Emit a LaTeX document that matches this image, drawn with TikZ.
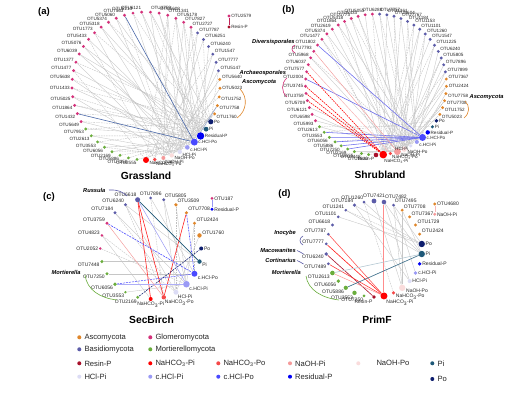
\documentclass[tikz,border=0pt]{standalone}
\usepackage{fontspec}
\setmainfont{Liberation Sans}
\usetikzlibrary{backgrounds}
\definecolor{asco}{HTML}{E0862A}
\definecolor{basi}{HTML}{5C5CA8}
\definecolor{glom}{HTML}{D4317A}
\definecolor{mort}{HTML}{6AAD3C}
\definecolor{resin}{HTML}{A8102A}
\definecolor{nahpi}{HTML}{FF0000}
\definecolor{nahpo}{HTML}{F54848}
\definecolor{naohpi}{HTML}{F59A9A}
\definecolor{naohpo}{HTML}{FADCDC}
\definecolor{hclpi}{HTML}{DCDCF5}
\definecolor{chclpi}{HTML}{9A9AF5}
\definecolor{chclpo}{HTML}{4A4AFF}
\definecolor{resid}{HTML}{0000F5}
\definecolor{pii}{HTML}{1E5878}
\definecolor{poo}{HTML}{0E1E6E}
\definecolor{eblue}{HTML}{6A6AEE}
\definecolor{steel}{HTML}{4A68A8}
\tikzset{
 dot/.style={circle,inner sep=0pt,draw=none},
 lab/.style={font=\fontsize{4.6}{5}\selectfont,inner sep=0.3pt,text=black!85},
 gl/.style={draw=gray!45,line width=0.35pt},
 gd/.style={draw=gray!50,line width=0.35pt,dash pattern=on 1.6pt off 1pt},
 ttl/.style={font=\bfseries\fontsize{10.3}{12}\selectfont},
 plab/.style={font=\bfseries\fontsize{9.5}{11}\selectfont},
 ann/.style={font=\bfseries\itshape\fontsize{5.7}{6}\selectfont,inner sep=0pt},
 ldot/.style={circle,inner sep=0pt,minimum size=4pt,draw=none},
 ltxt/.style={font=\fontsize{7.6}{9}\selectfont,inner sep=0pt,xshift=2.8pt,text=black!85},
}
\newcommand\cn[5][\ang]{\pgfmathsetmacro\ang{\sa+\st*#2}%
 \node[dot,fill=#4,minimum size=#5,label={[lab]#1:#3}] (\pre#2) at ({\cx+\rr*cos(\ang)},{\cy-\rr*sin(\ang)}) {};}
\begin{document}
\begin{tikzpicture}[x=1pt,y=-1pt]
\begin{pgfonlayer}{background}
\fill[white] (0,0) rectangle (514,395);
\end{pgfonlayer}
\useasboundingbox (0,0) rectangle (514,395);

% ================= (a) Grassland
\def\pre{a}\def\cx{146}\def\cy{86}\def\rr{74}\def\st{6.79}\def\sa{-90}
\foreach \la/\i/\t/\c/\s in {-15/0/{NaHCO\textsubscript{3}-Pi}/nahpi/6,-70/1/{NaHCO\textsubscript{3}-Po}/nahpo/3.6,-50/2/NaOH-Pi/naohpi/4,-10/3/NaOH-Po/naohpo/4.4,-10/4/HCl-Pi/hclpi/4.4,-5/5/c.HCl-Pi/chclpi/4.6,0/6/c.HCl-Po/chclpo/7,0/7/Residual-P/resid/7.4,0/8/Pi/pii/4.8,0/9/Po/poo/5.2}{\cn[\la]{\i}{\t}{\c}{\s}}
\foreach \i/\t in {10/OTU1760,11/OTU7758,12/OTU1752,13/OTU5023,14/OTU5640}{\cn{\i}{\t}{asco}{3.2}}
\foreach \i/\t in {15/OTU5147,16/OTU7777,17/OTU1547,18/OTU6240,19/OTU6251,20/OTU7787}{\cn{\i}{\t}{basi}{3.2}}
\foreach \i/\t in {21/OTU2727,22/OTU7827,23/OTU5178,24/OTU1341,25/OTU5608,26/OTU3759,27/OTU6121,28/OTU5213,29/OTU7563,30/OTU5060,31/OTU5374,32/OTU5318,33/OTU1773,34/OTU5433,35/OTU5076,36/OTU6039,37/OTU1377,38/OTU1477,39/OTU5638,40/OTU1433,41/OTU5025,42/OTU1864,43/OTU1432,44/OTU5649}{\cn{\i}{\t}{glom}{3.2}}
\foreach \i/\t in {45/OTU7953,46/OTU2613,47/OTU3553,48/OTU6056,49/OTU2169,50/OTU5886,51/OTU7250,52/OTU2555}{\cn{\i}{\t}{mort}{3.2}}
\node[dot,fill=glom,minimum size=3.2,label={[lab]right:OTU2579}] (aotu) at (229,16) {};
\node[dot,fill=resin,minimum size=3.2,label={[lab]right:Resin-P}] (ares) at (229,27) {};
\begin{scope}[on background layer]
\foreach \u/\v in {21/7,21/4,22/6,22/3,23/7,23/5,24/4,24/2,25/6,25/7,26/3,27/5,27/7,28/4,30/7,30/3,31/6,32/4,32/7,33/2,34/6,35/4,35/7,36/5,37/3,38/7,39/4,40/6,41/3,42/7,44/5,45/7,46/4,47/3,48/6,49/7,15/3,16/5,17/4,18/7,19/2,20/4,10/3,11/5,13/4,14/2,26/9,36/8}{\draw[gl] (a\u) -- (a\v);}
\foreach \u/\v in {21/9,22/8,24/0,26/7,28/8,29/3,31/9,33/8,34/1,37/9,38/0,39/8,40/9,41/7,42/8,43/9,44/8,45/9,46/7,47/8,48/3,49/4,50/6,51/7,52/5,15/9,17/0,19/8,20/1,12/0,23/1}{\draw[gd] (a\u) -- (a\v);}
\draw[steel,line width=0.6pt] (a29) -- (a6);
\draw[steel,line width=0.6pt] (a43) -- (a6);
\draw[steel!60,line width=0.5pt] (a11) -- (a6);
\draw[glom!60!resin,line width=0.5pt] (aotu) -- (ares);
\end{scope}
\node[ann,anchor=west] (annAscA) at (242,82.5) {Ascomycota};
\draw[asco,line width=0.6pt] (240,89) .. controls (248,97) and (247,111) .. (237,118);
\node[ttl] (tA) at (146,176) {Grassland};
\node[plab] (pA) at (44,12) {(a)};

% ================= (b) Shrubland
\def\pre{b}\def\cx{376}\def\cy{84.5}\def\rr{70.5}\def\st{5.9}\def\sa{-90}
\foreach \la/\i/\t/\c/\s in {-120/0/Resin-P/resin/4.6,-80/1/{NaHCO\textsubscript{3}-Pi}/nahpi/7.6,-50/2/{NaHCO\textsubscript{3}-Po}/nahpo/3.6,-10/3/NaOH-Pi/naohpi/6.8,-5/4/NaOH-Po/naohpo/5.4,-150/5/HCl-Pi/hclpi/3.6,-20/6/c.HCl-Pi/chclpi/4,0/7/c.HCl-Po/chclpo/7,0/8/Residual-P/resid/4.4,0/9/Pi/pii/3.4,0/10/Po/poo/3.8}{\cn[\la]{\i}{\t}{\c}{\s}}
\foreach \i/\t in {11/OTU5023,12/OTU1752,13/OTU7708,14/OTU7758,15/OTU2424,16/OTU7367}{\cn{\i}{\t}{asco}{3.2}}
\foreach \i/\t in {17/OTU7899,18/OTU7896,19/OTU5805,20/OTU6240,21/OTU1225,22/OTU1547,23/OTU1260,24/OTU1101,25/OTU1153,26/OTU1184,27/OTU7767,28/OTU5604,29/OTU1361,30/OTU7757}{\cn{\i}{\t}{basi}{3.2}}
\foreach \i/\t in {31/OTU6288,32/OTU5053,33/OTU5433,34/OTU1773,35/OTU5318,36/OTU1864,37/OTU2619,38/OTU5374,39/OTU1477,40/OTU1802,41/OTU7793,42/OTU5968,43/OTU6037,44/OTU7577,45/OTU2004,46/OTU3745,47/OTU3759,48/OTU5709,49/OTU6121,50/OTU6598,51/OTU5993}{\cn{\i}{\t}{glom}{3.2}}
\foreach \i/\t in {52/OTU2613,53/OTU3553,54/OTU6056,55/OTU5886,56/OTU7250,57/OTU2169,58/OTU2555,59/OTU7448,60/OTU1620}{\cn{\i}{\t}{mort}{3.2}}
\begin{scope}[on background layer]
\foreach \u/\v in {17/5,18/4,19/3,20/6,21/4,22/1,23/5,24/3,25/4,26/6,27/2,28/4,29/5,30/3,31/4,32/1,33/5,34/3,35/4,36/6,37/3,38/5,39/4,42/3,49/4,50/3,51/5,52/4,58/3,59/4,11/4,12/3,13/5,14/6,15/4,16/3,24/1,27/6,29/1,35/1}{\draw[gl] (b\u) -- (b\v);}
\foreach \u/\v in {17/1,19/4,21/1,23/3,25/1,26/4,28/3,30/5,31/1,33/4,34/6,36/3,38/1,39/2,42/5,52/9,53/10,55/8,60/4,13/4,15/1}{\draw[gd] (b\u) -- (b\v);}
\foreach \u in {40,45,53,54,55,56,57}{\draw[eblue,line width=0.55pt] (b\u) -- (b7);}
\foreach \u in {44,46,47,48}{\draw[nahpi,line width=0.6pt,dash pattern=on 1.6pt off 0.9pt] (b\u) -- (b1);}
\draw[naohpi,line width=0.45pt] (b41) -- (b3);
\draw[naohpi!80,line width=0.45pt] (b43) -- (b2);
\end{scope}
\node[ann,anchor=west] (annDiv) at (252,42.5) {Diversisporales};
\draw[glom,line width=0.6pt] (295,45) .. controls (291,47) and (291,51) .. (295,53);
\node[ann,anchor=west] (annArc) at (239.5,73) {Archaeosporales};
\draw[glom,line width=0.6pt] (287,78) .. controls (281,83) and (281,92) .. (287,97);
\node[ann,anchor=west] (annAscB) at (469.5,97.5) {Ascomycota};
\draw[asco,line width=0.6pt] (465,101) .. controls (470,106) and (470,113) .. (464,118);
\node[ttl] (tB) at (380,175) {Shrubland};
\node[plab] (pB) at (288.5,10.5) {(b)};

% ================= (c) SecBirch
\tikzset{lab/.style={font=\fontsize{5}{5.5}\selectfont,inner sep=0.4pt,text=black!85}}
\def\pre{c}\def\cx{150.7}\def\cy{248.5}\def\rr{50.5}\def\st{15}\def\sa{-90}
\foreach \i/\t/\c/\s in {0/{NaHCO\textsubscript{3}-Pi}/nahpi/4,1/{NaHCO\textsubscript{3}-Po}/nahpo/4.4,2/HCl-Pi/hclpi/5,3/c.HCl-Pi/chclpi/6.6,4/c.HCl-Po/chclpo/6,5/Pi/pii/4.4,6/Po/poo/4,7/OTU1760/asco/4.4,8/OTU2424/asco/3.2,9/OTU7708/asco/3.4,10/OTU3509/asco/3.6,11/OTU5805/basi/3.2,12/OTU7896/basi/3,13/OTU6618/basi/5,14/OTU6240/basi/3.2,15/OTU7184/basi/3.2,16/OTU3759/glom/3.2,17/OTU4823/glom/2.8,18/OTU2052/glom/2.6,19/OTU7448/mort/3.4,20/OTU7250/mort/3.4,21/OTU6056/mort/3.8,22/OTU3553/mort/2.6,23/OTU2169/mort/3.2}{\cn{\i}{\t}{\c}{\s}}
\node[dot,fill=glom,minimum size=3,label={[lab]right:OTU187}] (cotu) at (212,198.3) {};
\node[dot,fill=resid,minimum size=3.2,label={[lab]right:Residual-P}] (cres) at (212,209.3) {};
\begin{scope}[on background layer]
\foreach \u/\v in {19/5,14/2,11/2,10/3,20/4,22/3,7/2,8/3,11/3,12/4,15/3,17/0,14/5}{\draw[gl] (c\u) -- (c\v);}
\foreach \u/\v in {15/2,12/1,17/2,18/3,10/2,14/1,8/4}{\draw[gd] (c\u) -- (c\v);}
\draw[nahpi!85,line width=0.6pt] (c13) -- (c0);
\draw[nahpi!85,line width=0.6pt] (c13) -- (c1);
\draw[nahpi!85,line width=0.6pt] (c9) -- (c1);
\draw[pii,line width=0.6pt] (c13) -- (c5);
\draw[chclpo,line width=0.6pt,dash pattern=on 2pt off 1pt] (c16) -- (c4);
\draw[chclpo,line width=0.6pt,dash pattern=on 2pt off 1pt] (c9) -- (c4);
\draw[chclpo,line width=0.5pt,dash pattern=on 2pt off 1pt] (c21) -- (c4);
\draw[poo,line width=0.55pt,dash pattern=on 2pt off 1pt] (c23) -- (c6);
\draw[chclpi!80,line width=1.3pt] (c21) -- (c3);
\draw[chclpi,line width=0.5pt] (c13) -- (c3);
\draw[naohpi,line width=0.45pt] (c16) -- (c1);
\draw[eblue!70,line width=0.5pt] (cotu) -- (cres);
\end{scope}
\node[ann,anchor=west] (annRus) at (83,190) {Russula};
\draw[basi,line width=0.6pt] (109,190) .. controls (118,189.5) and (123,192) .. (127,196);
\node[ann,anchor=west] (annMorC) at (51.5,272.7) {Mortierella};
\draw[mort,line width=0.6pt] (85,275) .. controls (87,290) and (100,298) .. (117,300);
\node[ttl] (tC) at (151.5,320) {SecBirch};
\node[plab] (pC) at (49,197.5) {(c)};

% ================= (d) PrimF
\def\pre{d}\def\cx{374}\def\cy{249}\def\rr{48}\def\st{12}\def\sa{-90}
\foreach \la/\i/\t/\c/\s in {-120/0/Resin-P/resin/3.8,-60/1/{NaHCO\textsubscript{3}-Pi}/nahpi/7,-20/2/{NaHCO\textsubscript{3}-Po}/nahpo/3.4,-10/3/NaOH-Po/naohpo/6.4,0/4/HCl-Pi/hclpi/4,0/5/c.HCl-Pi/chclpi/3.8,0/6/Residual-P/resid/3.8,0/7/Pi/pii/6.4,0/8/Po/poo/6.4}{\cn[\la]{\i}{\t}{\c}{\s}}
\foreach \i/\t/\c/\s in {9/OTU2424/asco/3.2,10/OTU1729/asco/3.2,11/OTU7367/asco/3.2,12/OTU7708/asco/3.2,13/OTU7495/basi/3.2,14/OTU7482/basi/4.6,15/OTU7421/basi/4.8,16/OTU1260/basi/3,17/OTU7184/basi/3.6,18/OTU1241/basi/2.8,19/OTU1101/basi/3,20/OTU6618/basi/3.2,21/OTU7787/basi/3,22/OTU7777/basi/3,23/OTU6240/basi/3.6,24/OTU7489/basi/3,25/OTU2613/mort/4.6,26/OTU6056/mort/3.8,27/OTU5886/mort/4.2,28/OTU3553/mort/4.4,29/OTU7250/mort/3}{\cn{\i}{\t}{\c}{\s}}
\node[dot,fill=asco,minimum size=3.2,label={[lab]right:OTU4680}] (dotu) at (434.7,204) {};
\node[dot,fill=naohpi,minimum size=3.2,label={[lab]right:NaOH-Pi}] (dnaoh) at (434.7,214.3) {};
\begin{scope}[on background layer]
\foreach \u/\v in {15/3,17/8,13/8,14/7,18/7,19/8,13/5,14/4,12/3,16/7,17/4,13/3,12/7}{\draw[gl] (d\u) -- (d\v);}
\foreach \u/\v in {16/2,18/8}{\draw[gd] (d\u) -- (d\v);}
\draw[nahpi!45,line width=1pt] (d14) -- (d1);
\draw[nahpi!70,line width=0.55pt] (d21) -- (d1);
\draw[nahpi!90,line width=0.6pt] (d22) -- (d1);
\draw[resin,line width=0.6pt] (d23) -- (d0);
\draw[nahpi!80,line width=0.55pt] (d24) -- (d1);
\draw[nahpi!40,line width=0.5pt] (d25) -- (d1);
\draw[pii!85,line width=0.65pt] (d27) -- (d7);
\draw[pii!35,line width=0.55pt] (d25) -- (d7);
\draw[naohpi!70,line width=0.4pt] (dotu) -- (dnaoh);
\end{scope}
\node[ann,anchor=east] (annIno) at (296,233.3) {Inocybe};
\draw[basi,line width=0.6pt] (303,236) .. controls (299,238) and (299,243) .. (303,245);
\node[ann,anchor=east] (annMac) at (296,250) {Macowanites};
\draw[basi,line width=0.6pt] (297,250.5) .. controls (300.5,250.5) and (300,253.5) .. (303.5,254);
\node[ann,anchor=east] (annCor) at (296,260) {Cortinarius};
\draw[basi,line width=0.6pt] (297,260.5) .. controls (300.5,260.5) and (300,263.5) .. (303.5,264);
\node[ann,anchor=east] (annMorD) at (301,272.7) {Mortierella};
\draw[mort,line width=0.6pt] (306,276) .. controls (308,290) and (322,298) .. (339,300);
\node[ttl] (tD) at (377,320) {PrimF};
\node[plab] (pD) at (284.5,194) {(d)};

% ================= legend
\node[ldot,fill=asco,label={[ltxt]right:Ascomycota}] (lg1) at (79.3,337.3) {};
\node[ldot,fill=glom,label={[ltxt]right:Glomeromycota}] (lg2) at (150.3,337.3) {};
\node[ldot,fill=basi,label={[ltxt]right:Basidiomycota}] (lg3) at (79.3,349.3) {};
\node[ldot,fill=mort,label={[ltxt]right:Mortierellomycota}] (lg4) at (150.3,349.3) {};
\node[ldot,fill=resin,label={[ltxt]right:Resin-P}] (lg5) at (79.3,363.3) {};
\node[ldot,fill=nahpi,label={[ltxt]right:NaHCO\textsubscript{3}-Pi}] (lg6) at (150.3,363.3) {};
\node[ldot,fill=nahpo,label={[ltxt]right:NaHCO\textsubscript{3}-Po}] (lg7) at (218.3,363.3) {};
\node[ldot,fill=naohpi,label={[ltxt]right:NaOH-Pi}] (lg8) at (290,363.3) {};
\node[ldot,fill=naohpo,label={[ltxt,xshift=13pt]right:NaOH-Po}] (lg9) at (358.3,363.3) {};
\node[ldot,fill=pii,label={[ltxt]right:Pi}] (lg10) at (432.3,363.3) {};
\node[ldot,fill=hclpi,label={[ltxt]right:HCl-Pi}] (lg11) at (79.3,376.7) {};
\node[ldot,fill=chclpi,label={[ltxt]right:c.HCl-Pi}] (lg12) at (150.3,376.7) {};
\node[ldot,fill=chclpo,label={[ltxt]right:c.HCl-Po}] (lg13) at (218.3,376.7) {};
\node[ldot,fill=resid,label={[ltxt]right:Residual-P}] (lg14) at (290,376.7) {};
\node[ldot,fill=poo,label={[ltxt]right:Po}] (lg15) at (432.3,379) {};
\end{tikzpicture}
\end{document}
